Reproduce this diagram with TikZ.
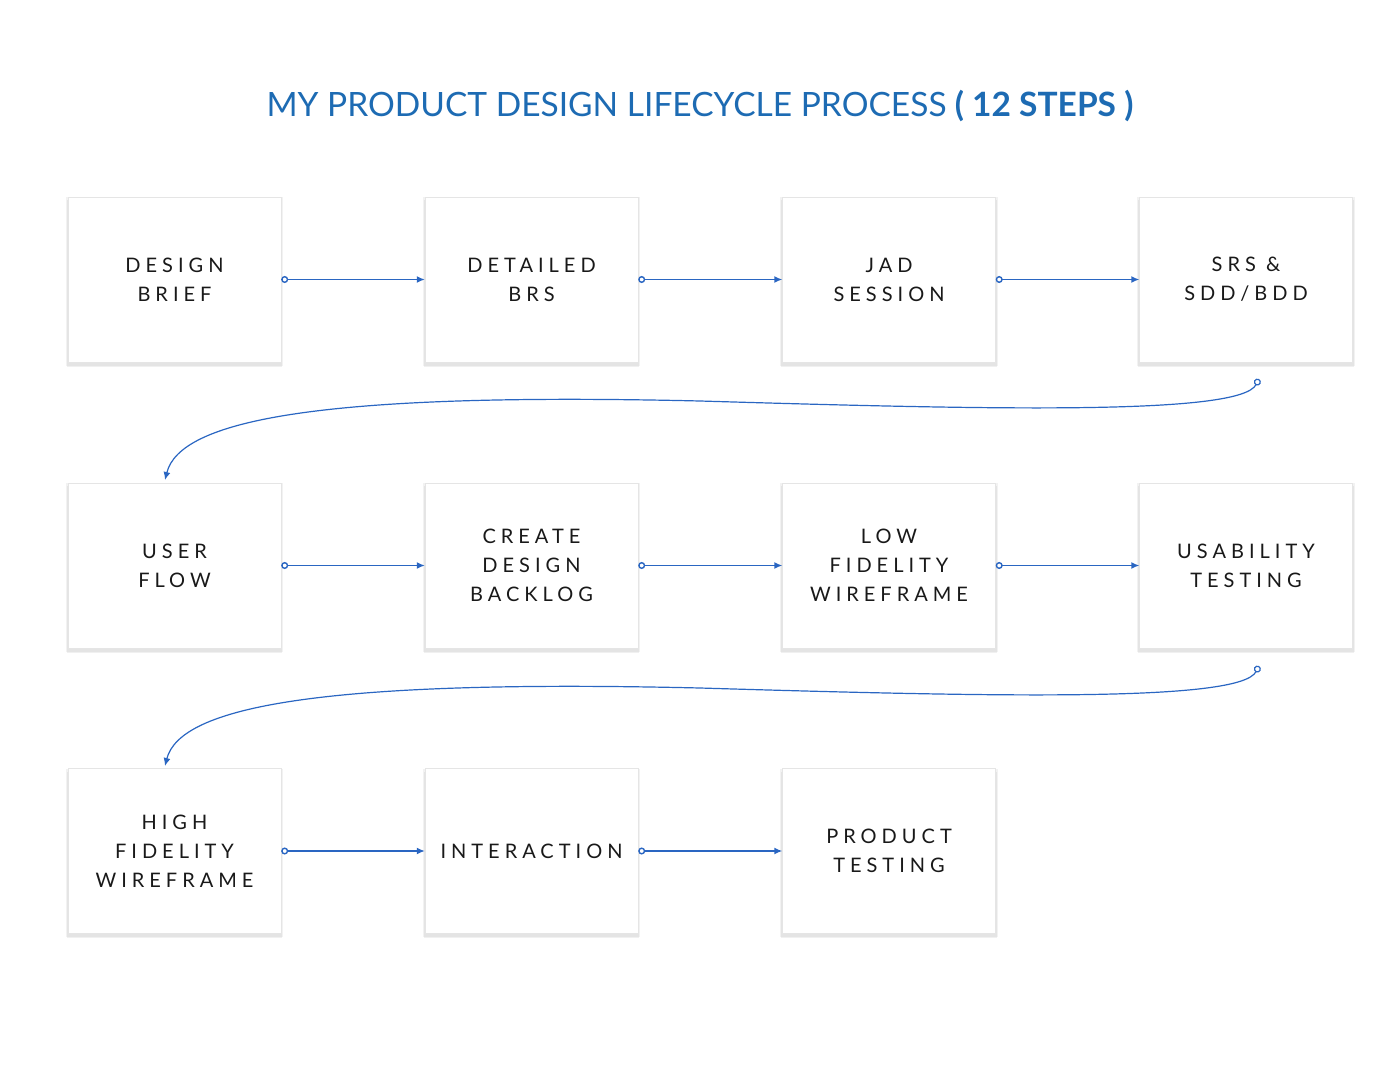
\documentclass[tikz,border=0pt]{standalone}
\usepackage{fontspec}
\setmainfont{Lato}
\newfontfamily\boxfont[LetterSpace=25]{Lato}
\usetikzlibrary{shadows,arrows.meta}
\definecolor{ttl}{HTML}{1D6BB3}
\definecolor{lnk}{HTML}{2A66C2}
\tikzset{
 stepbox/.style={draw=black!10,fill=white,minimum width=213pt,minimum height=165pt,
   general shadow={shadow xshift=0pt,shadow yshift=-2pt,shadow scale=1.02,fill=black,opacity=0.05},
   general shadow={shadow xshift=0pt,shadow yshift=-4pt,shadow scale=1.01,fill=black,opacity=0.06},
   align=center,font=\boxfont\fontsize{20}{29}\selectfont,text=black!90},
 link/.style={draw=lnk,line width=1.4pt,{Circle[open,length=7pt,width=7pt,fill=white]}-{Latex[length=8pt,width=7pt]}},
}
\begin{document}
\begin{tikzpicture}[x=1pt,y=-1pt]
\useasboundingbox (0,0) rectangle (1400,1075);
\node[font=\fontsize{33.5}{38}\selectfont,text=ttl] (title) at (700,106) {MY PRODUCT DESIGN LIFECYCLE PROCESS \textbf{( 12 STEPS )}};
\node[stepbox] (a1) at (174.5,279.5) {DESIGN\\BRIEF};
\node[stepbox] (a2) at (531.5,279.5) {DETAILED\\BRS};
\node[stepbox] (a3) at (889,279.5) {JAD\\SESSION};
\node[stepbox] (a4) at (1246,279.5) {SRS \&\\SDD/BDD};
\node[stepbox] (b1) at (174.5,565.5) {USER\\FLOW};
\node[stepbox] (b2) at (531.5,565.5) {CREATE\\DESIGN\\BACKLOG};
\node[stepbox] (b3) at (889,565.5) {LOW\\FIDELITY\\WIREFRAME};
\node[stepbox] (b4) at (1246,565.5) {USABILITY\\TESTING};
\node[stepbox] (c1) at (174.5,851) {HIGH\\FIDELITY\\WIREFRAME};
\node[stepbox] (c2) at (531.5,851) {INTERACTION};
\node[stepbox] (c3) at (889,851) {PRODUCT\\TESTING};
\foreach \u/\v in {a1/a2,a2/a3,a3/a4,b1/b2,b2/b3,b3/b4,c1/c2,c2/c3}
  \draw[link] (\u.east) -- (\v.west);
\coordinate (s1) at (1259,379);
\coordinate (e1) at (165,480);
\coordinate (s2) at (1259,666);
\coordinate (e2) at (165,766);
\draw[link,line width=1.2pt] (s1) .. controls (1240,415) and (1000,410) .. (700,401) .. controls (320,392) and (180,420) .. (e1);
\draw[link,line width=1.2pt] (s2) .. controls (1240,702) and (1000,697) .. (700,688) .. controls (320,679) and (180,707) .. (e2);
\end{tikzpicture}
\end{document}
